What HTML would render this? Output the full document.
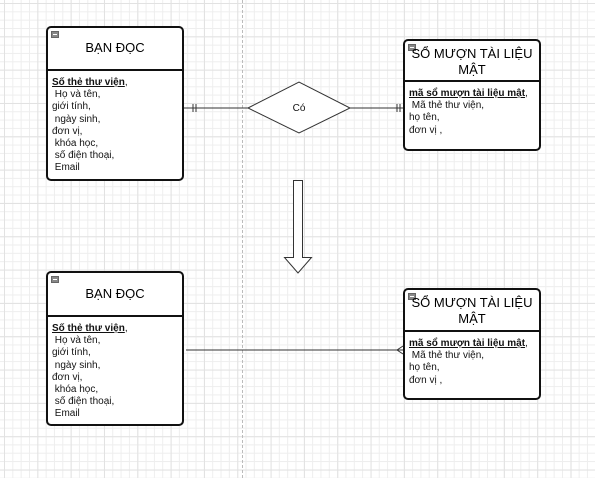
<!DOCTYPE html>
<html><head><meta charset="utf-8"><style>
html,body{margin:0;padding:0}
body{width:595px;height:478px;position:relative;overflow:hidden;background:#fff;
font-family:"Liberation Sans","DejaVu Sans",sans-serif;
background-image:
linear-gradient(to right,#e2e2e2 1px,transparent 1px),
linear-gradient(to bottom,#e2e2e2 1px,transparent 1px),
linear-gradient(to right,#eeeeee 1px,transparent 1px),
linear-gradient(to bottom,#eeeeee 1px,transparent 1px);
background-size:33.33px 33.33px,33.33px 33.33px,8.333px 8.333px,8.333px 8.333px;
background-position:4px 3px,4px 3px,4px 3px,4px 3px;}
.box{position:absolute;border:2px solid #111;border-radius:5px;background:#fff;box-sizing:border-box}
.hd{position:absolute;left:0;right:0;top:0;border-bottom:2px solid #111;text-align:center;font-size:13px;color:#000}
.mn{position:absolute;left:3px;top:3px;width:8px;height:7px;background:#888;border:1px solid #666;box-sizing:border-box}
.mn:after{content:"";position:absolute;left:1px;right:1px;top:2px;height:1px;background:#fff}
.bd{position:absolute;left:4px;font-size:10px;line-height:12.2px;color:#111;white-space:pre}
.bd b{text-decoration:underline}
.dash{position:absolute;left:242px;top:0;height:478px;border-left:1px dashed #bbb}
</style></head><body>
<div class="dash"></div>

<div class="box" style="left:46px;top:26px;width:138px;height:155px">
 <div class="mn"></div>
 <div class="hd" style="height:41px;line-height:40px">BẠN ĐỌC</div>
 <div class="bd" style="top:49px"><b>Số thẻ thư viện</b>,
 Họ và tên,
giới tính,
 ngày sinh,
đơn vị,
 khóa học,
 số điện thoại,
 Email</div>
</div>

<div class="box" style="left:403px;top:39px;width:138px;height:112px">
 <div class="mn"></div>
 <div class="hd" style="height:41px;line-height:16px;padding-top:5px;box-sizing:border-box">SỔ MƯỢN TÀI LIỆU<br>MẬT</div>
 <div class="bd" style="top:47px"><b>mã sổ mượn tài liệu mật</b>,
 Mã thẻ thư viện,
họ tên,
đơn vị ,</div>
</div>

<div class="box" style="left:46px;top:271px;width:138px;height:155px">
 <div class="mn"></div>
 <div class="hd" style="height:42px;line-height:42px">BẠN ĐỌC</div>
 <div class="bd" style="top:50px"><b>Số thẻ thư viện</b>,
 Họ và tên,
giới tính,
 ngày sinh,
đơn vị,
 khóa học,
 số điện thoại,
 Email</div>
</div>

<div class="box" style="left:403px;top:288px;width:138px;height:112px">
 <div class="mn"></div>
 <div class="hd" style="height:42px;line-height:16px;padding-top:5px;box-sizing:border-box">SỔ MƯỢN TÀI LIỆU<br>MẬT</div>
 <div class="bd" style="top:48px"><b>mã sổ mượn tài liệu mật</b>,
 Mã thẻ thư viện,
họ tên,
đơn vị ,</div>
</div>

<svg width="595" height="478" style="position:absolute;left:0;top:0" xmlns="http://www.w3.org/2000/svg">
 <g stroke="#333" stroke-width="1" fill="none">
  <line x1="184" y1="108" x2="248" y2="108"/>
  <line x1="193" y1="104" x2="193" y2="112"/>
  <line x1="196" y1="104" x2="196" y2="112"/>
  <polygon points="248,108 299,82 350,108 299,133" fill="#fff"/>
  <line x1="350" y1="108" x2="403" y2="108"/>
  <line x1="397" y1="104" x2="397" y2="112"/>
  <line x1="400" y1="104" x2="400" y2="112"/>
  <line x1="186" y1="350" x2="403" y2="350"/>
  <polyline points="403,346 397,350 403,354"/>
  <polygon points="293.5,180.5 302.5,180.5 302.5,257.5 311.5,257.5 298,273 284.5,257.5 293.5,257.5" fill="#fff"/>
 </g>
 <text x="299" y="111" font-size="10" text-anchor="middle" font-family="Liberation Sans,sans-serif" fill="#111">Có</text>
</svg>
</body></html>
